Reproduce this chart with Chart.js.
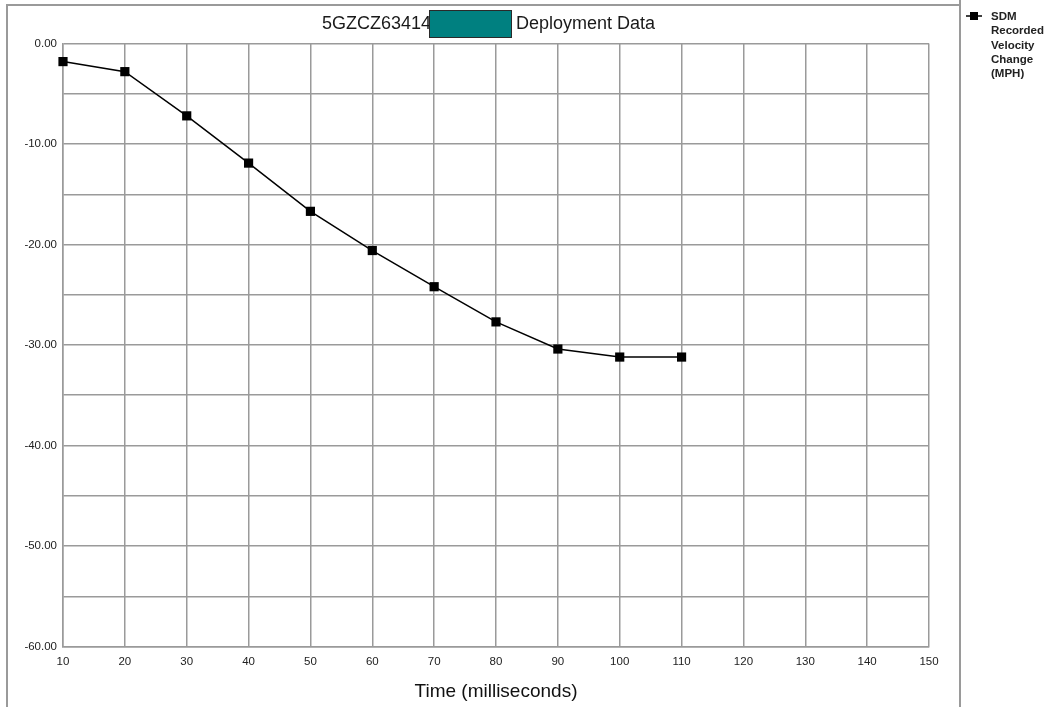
<!DOCTYPE html>
<html>
<head>
<meta charset="utf-8">
<script src="https://cdn.jsdelivr.net/npm/chart.js@4.4.1/dist/chart.umd.min.js"></script>
<style>
  html, body { margin: 0; padding: 0; background: #fff; }
  #wrap { position: relative; width: 1047px; height: 707px; }
</style>
</head>
<body>
<div id="wrap"><canvas id="c" width="1047" height="707"></canvas></div>
<script>
// ---- data ----
const timeMs = [10, 20, 30, 40, 50, 60, 70, 80, 90, 100, 110];
const velocityChange = [-1.8, -2.8, -7.2, -11.9, -16.7, -20.6, -24.2, -27.7, -30.4, -31.2, -31.2];
const titleLeft = '5GZCZ63414';
const titleRight = 'Deployment Data';
const seriesName = 'SDM Recorded Velocity Change (MPH)';
const legendLines = ['SDM', 'Recorded', 'Velocity', 'Change', '(MPH)'];
const xTitle = 'Time (milliseconds)';

const FONT = '"Liberation Sans", Arial, sans-serif';

const framePlugin = {
  id: 'frame',
  afterDraw(chart) {
    const ctx = chart.ctx;
    ctx.save();
    // outer frame
    ctx.strokeStyle = '#9a9a9a';
    ctx.lineWidth = 2;
    ctx.beginPath();
    ctx.moveTo(7, 707);
    ctx.lineTo(7, 5);
    ctx.lineTo(960, 5);
    ctx.moveTo(960, 0);
    ctx.lineTo(960, 707);
    ctx.stroke();

    // title
    ctx.font = '18px ' + FONT;
    ctx.fillStyle = '#1a1a1a';
    ctx.textBaseline = 'middle';
    ctx.textAlign = 'left';
    ctx.fillText(titleLeft, 322, 24);
    ctx.fillStyle = '#008080';
    ctx.fillRect(429, 10, 82, 27);
    ctx.strokeStyle = '#2a2a2a';
    ctx.lineWidth = 1;
    ctx.strokeRect(429.5, 10.5, 82, 27);
    ctx.fillStyle = '#1a1a1a';
    ctx.fillText(titleRight, 516, 24);

    // legend
    ctx.strokeStyle = '#000';
    ctx.lineWidth = 1.5;
    ctx.beginPath();
    ctx.moveTo(966, 16);
    ctx.lineTo(982, 16);
    ctx.stroke();
    ctx.fillStyle = '#000';
    ctx.fillRect(970, 12, 8, 8);
    ctx.font = 'bold 11.5px ' + FONT;
    ctx.fillStyle = '#222';
    legendLines.forEach((t, i) => ctx.fillText(t, 991, 17 + i * 14.2));
    ctx.restore();
  }
};

new Chart(document.getElementById('c'), {
  type: 'line',
  data: {
    datasets: [{
      label: seriesName,
      data: timeMs.map((t, i) => ({ x: t, y: velocityChange[i] })),
      borderColor: '#000',
      backgroundColor: '#000',
      borderWidth: 1.5,
      tension: 0,
      clip: false,
      pointStyle: 'rect',
      pointRadius: 6.5,
      pointBorderWidth: 0,
      pointBackgroundColor: '#000'
    }]
  },
  options: {
    responsive: false,
    animation: false,
    layout: { padding: { left: 0, top: 43.5, right: 118, bottom: 0 } },
    plugins: { legend: { display: false }, title: { display: false }, tooltip: { enabled: false } },
    scales: {
      x: {
        type: 'linear',
        min: 10, max: 150,
        afterFit(s) { s.height = 60.5; },
        ticks: { stepSize: 10, padding: 8, color: '#222', font: { size: 11.5, family: FONT } },
        grid: { color: '#9a9a9a', lineWidth: 1.5, drawTicks: false },
        border: { color: '#9a9a9a', width: 1.5 },
        title: { display: true, text: xTitle, color: '#111', font: { size: 19, family: FONT }, padding: { top: 0, bottom: 4 } }
      },
      y: {
        min: -60, max: 0,
        afterFit(s) { s.width = 63; },
        ticks: {
          stepSize: 5, padding: 6, color: '#222', font: { size: 11.5, family: FONT },
          callback: v => (Math.round(v) % 10 === 0 ? Number(v).toFixed(2) : '')
        },
        grid: { color: '#9a9a9a', lineWidth: 1.5, drawTicks: false },
        border: { color: '#9a9a9a', width: 1.5 }
      }
    }
  },
  plugins: [framePlugin]
});
</script>
</body>
</html>
